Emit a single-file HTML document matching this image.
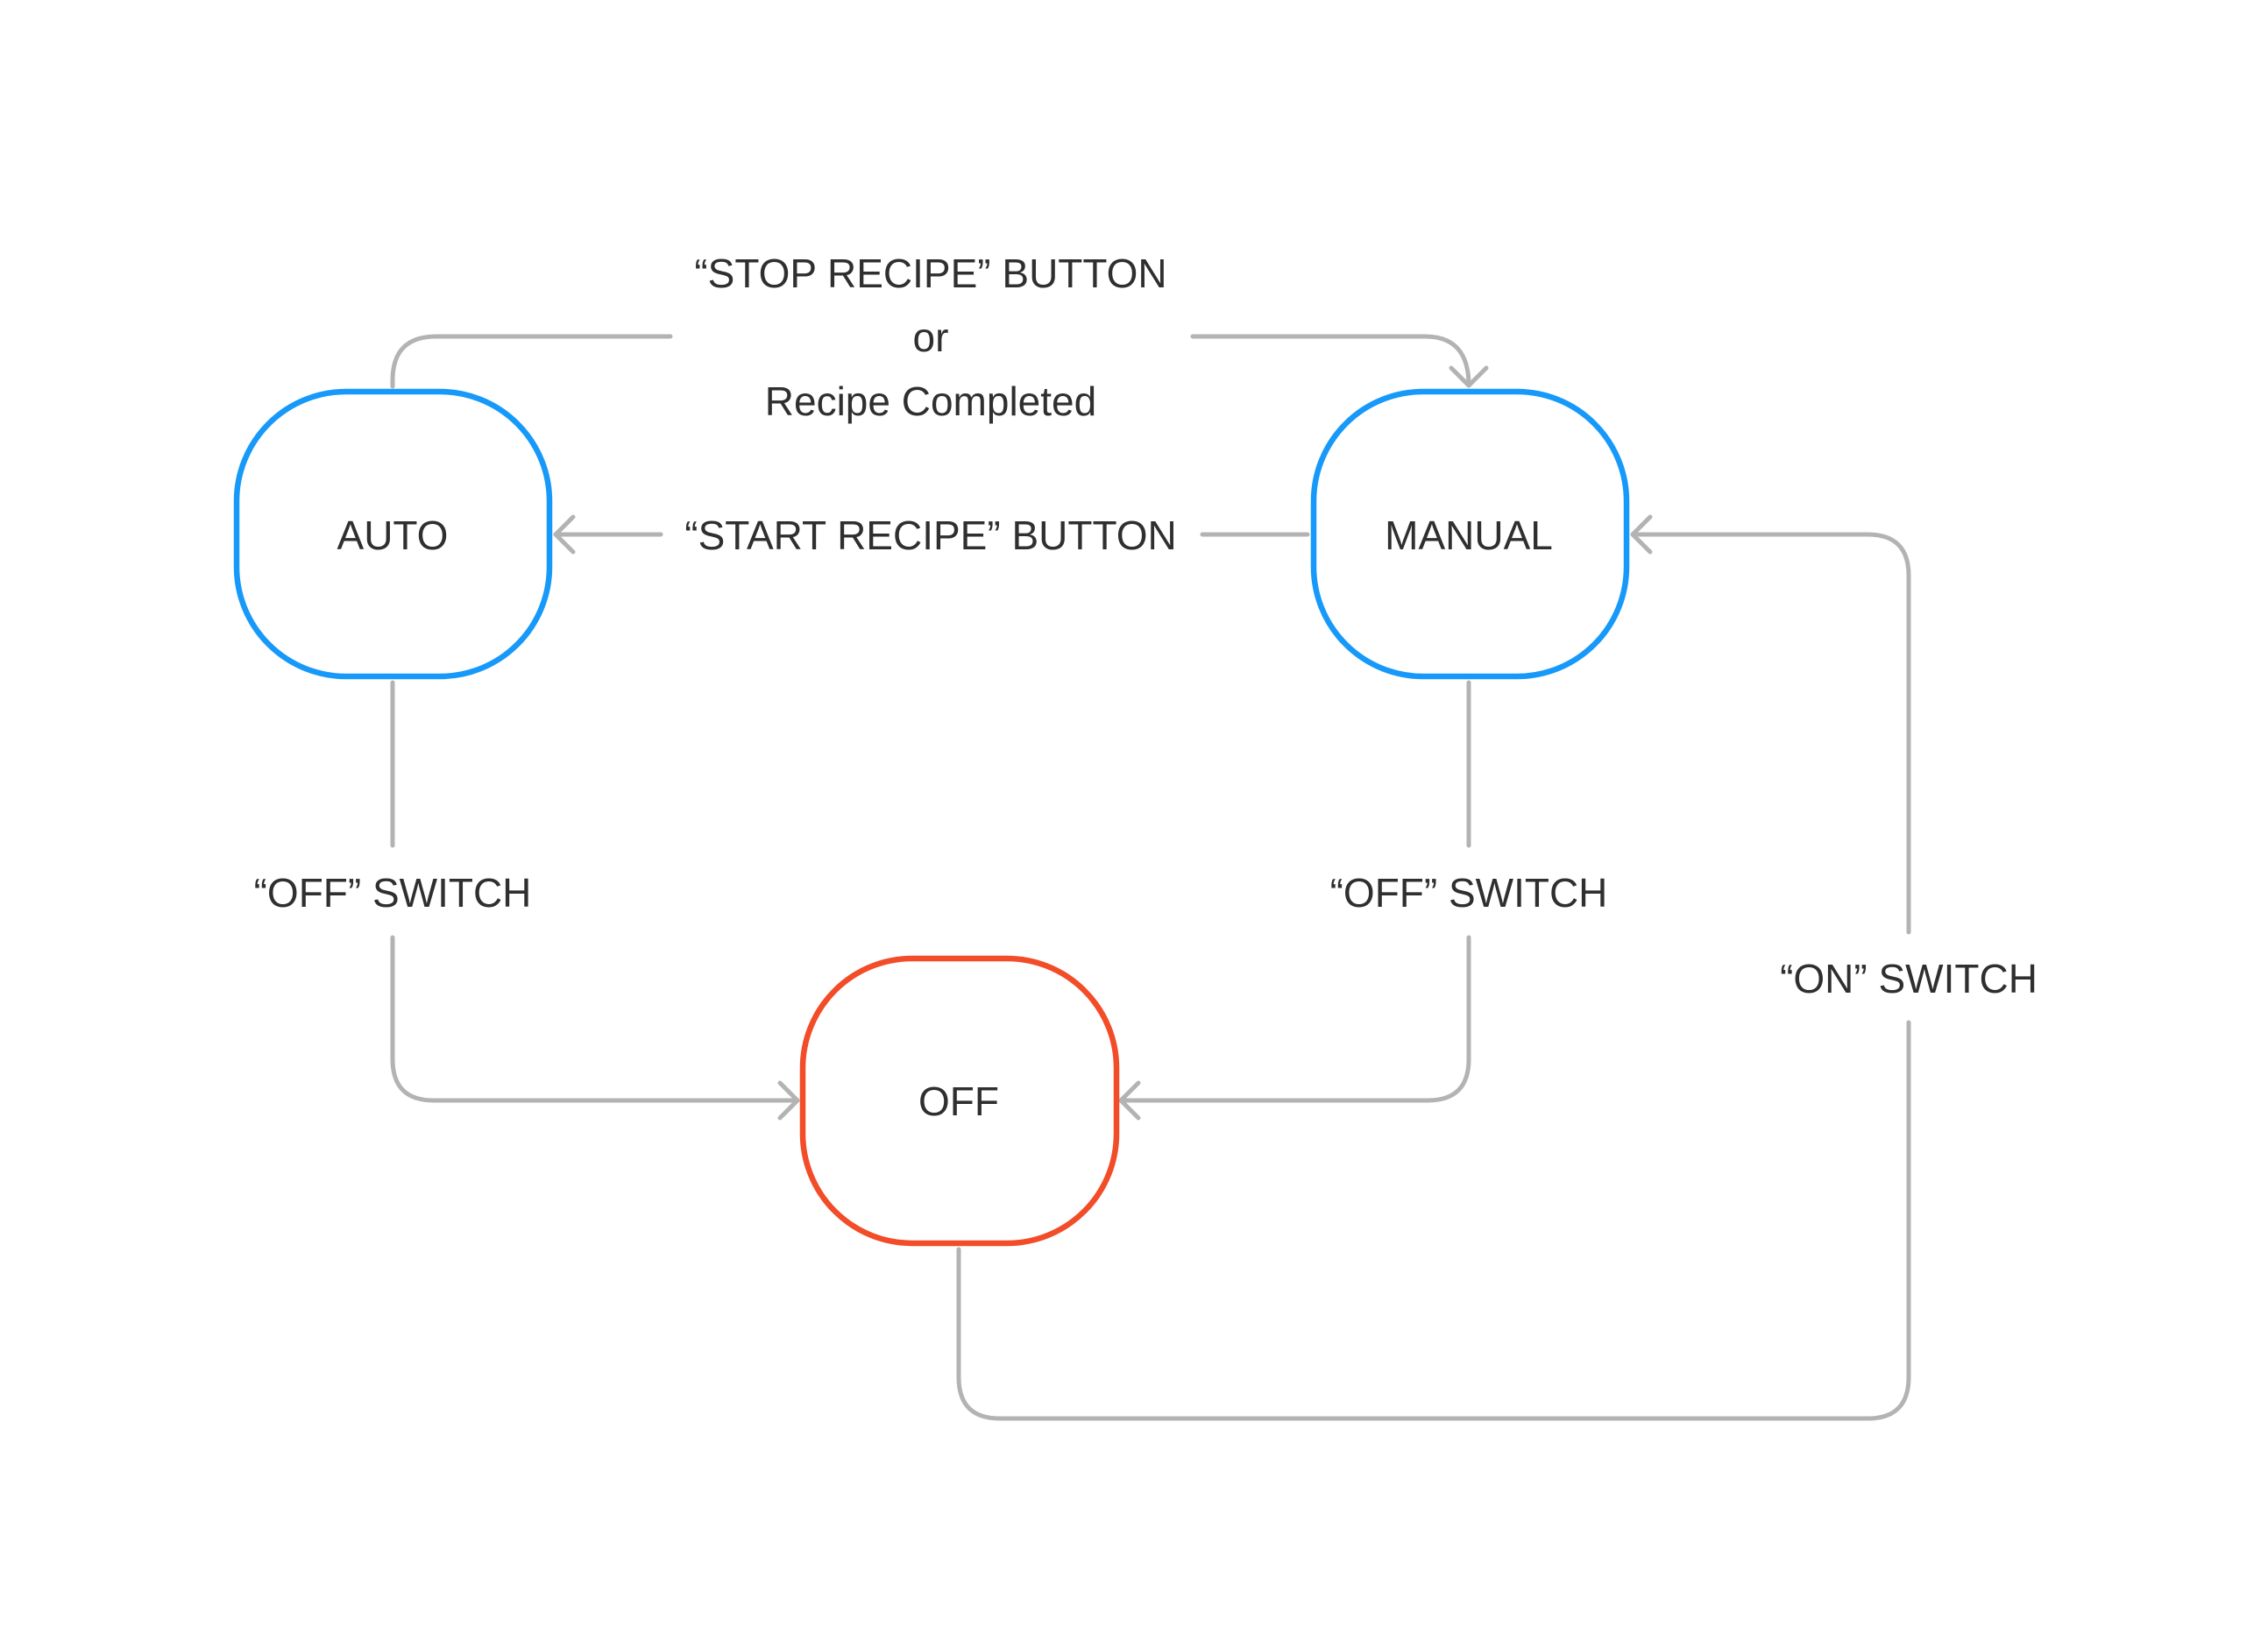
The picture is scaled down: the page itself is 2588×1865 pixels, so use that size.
<!DOCTYPE html>
<html><head><meta charset="utf-8"><style>html,body{margin:0;padding:0;background:#fff}svg{display:block}</style></head>
<body>
<svg width="2588" height="1865" viewBox="0 0 2588 1865" xmlns="http://www.w3.org/2000/svg">
<g fill="none" stroke="#b3b3b3" stroke-width="5" stroke-linecap="round" stroke-linejoin="round">
<path d="M448 441 V434 Q448 384 498 384 H765"/>
<path d="M1361 384 H1626 Q1676 384 1676 440"/>
<path d="M1656 420 L1676 440 L1696 420"/>
<path d="M1492 610 H1372"/>
<path d="M754 610 H634"/>
<path d="M654 590 L634 610 L654 630"/>
<path d="M448 779 V965"/>
<path d="M448 1070 V1209 Q448 1256 495 1256 H910"/>
<path d="M890 1236 L910 1256 L890 1276"/>
<path d="M1676 779 V965"/>
<path d="M1676 1070 V1209 Q1676 1256 1629 1256 H1279"/>
<path d="M1299 1236 L1279 1256 L1299 1276"/>
<path d="M1094 1426 V1572 Q1094 1619 1141 1619 H2131 Q2178 1619 2178 1572 V1167"/>
<path d="M2178 1064 V657 Q2178 610 2131 610 H1863"/>
<path d="M1883 590 L1863 610 L1883 630"/>
</g>
<g fill="#fff" stroke-width="6.5">
<rect x="270" y="447" width="357" height="325" rx="125" ry="125" stroke="#1799fa"/>
<rect x="1499" y="447" width="357" height="325" rx="125" ry="125" stroke="#1799fa"/>
<rect x="916" y="1094" width="358" height="325" rx="125" ry="125" stroke="#f24c28"/>
</g>
<g font-family="Liberation Sans, sans-serif" font-size="46" fill="#2f2f2f" text-anchor="middle" dominant-baseline="central">
<text x="448" y="611">AUTO</text>
<text x="1676" y="611">MANUAL</text>
<text x="1094" y="1257">OFF</text>
<text x="1062" y="312">“STOP RECIPE” BUTTON</text>
<text x="1062" y="385">or</text>
<text x="1062" y="458">Recipe Completed</text>
<text x="1062" y="611">“START RECIPE” BUTTON</text>
<text x="448" y="1019">“OFF” SWITCH</text>
<text x="1676" y="1019">“OFF” SWITCH</text>
<text x="2178" y="1117">“ON” SWITCH</text>
</g>
</svg>
</body></html>
